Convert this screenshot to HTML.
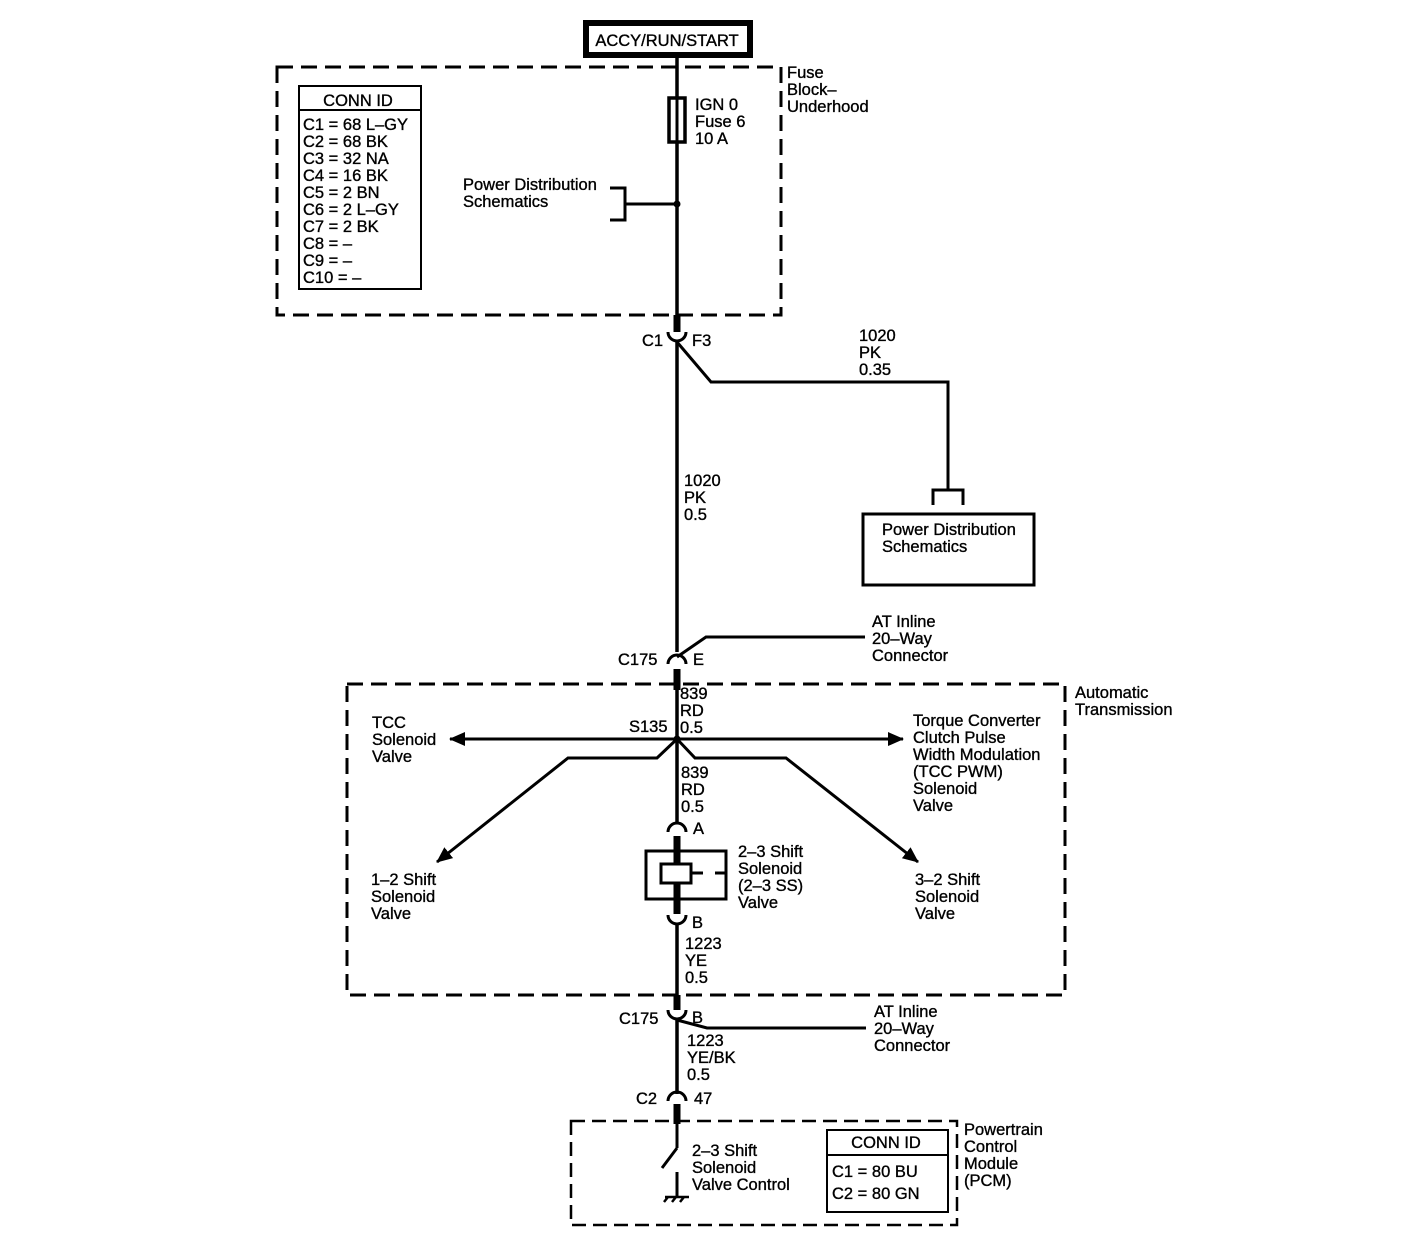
<!DOCTYPE html>
<html><head><style>
body{margin:0;background:#fff}
svg{display:block}
text{font-family:"Liberation Sans",sans-serif;font-size:16.5px;fill:#000;stroke:#000;stroke-width:0.35}
</style></head><body>
<svg width="1408" height="1240" viewBox="0 0 1408 1240" xmlns="http://www.w3.org/2000/svg">
<defs>
<marker id="ah2" markerWidth="16" markerHeight="14" refX="15" refY="7" orient="auto" markerUnits="userSpaceOnUse"><path d="M0,0 L16,7 L0,14 Z"/></marker></defs>
<g fill="none" stroke="#000">
<!-- top box -->
<rect x="586" y="23" width="164" height="32" stroke-width="6"/>
<!-- dashed boxes -->
<rect x="277" y="67" width="504" height="248" stroke-width="3" stroke-dasharray="16,8"/>
<rect x="347" y="684" width="718" height="311" stroke-width="3" stroke-dasharray="16,8"/>
<rect x="571" y="1121" width="386" height="104" stroke-width="2.5" stroke-dasharray="14,7"/>
<!-- conn id -->
<rect x="299" y="86" width="122" height="203" stroke-width="2"/>
<line x1="299" y1="110" x2="421" y2="110" stroke-width="2"/>
<rect x="827" y="1130" width="121" height="82" stroke-width="2"/>
<line x1="827" y1="1155" x2="948" y2="1155" stroke-width="2"/>
<!-- main wire -->
<line x1="677" y1="56" x2="677" y2="97" stroke-width="3.5"/>
<rect x="669" y="98" width="16" height="44" stroke-width="3.5"/>
<line x1="677" y1="97" x2="677" y2="142" stroke-width="3"/>
<line x1="677" y1="142" x2="677" y2="315" stroke-width="3.5"/>
<line x1="677" y1="315" x2="677" y2="332" stroke-width="7"/>
<path d="M668,332 A9,9 0 0 0 686,332" stroke-width="3"/>
<line x1="677" y1="342" x2="677" y2="652" stroke-width="3.5"/>
<!-- PD bracket top -->
<path d="M610,188 H625 V220 H610" stroke-width="3"/>
<line x1="625" y1="204" x2="677" y2="204" stroke-width="3"/>
<circle cx="677" cy="204" r="3" fill="#000"/>
<!-- branch -->
<path d="M677,342 L711,382 H948 V490" stroke-width="3"/>
<path d="M933,505 V490 H963 V505" stroke-width="3"/>
<rect x="863" y="514" width="171" height="71" stroke-width="3"/>
<!-- C175 E -->
<path d="M668,664 A9,9 0 0 1 686,664" stroke-width="3"/>
<path d="M677,657 L706,637 H865" stroke-width="3"/>
<line x1="677" y1="669" x2="677" y2="690" stroke-width="7"/>
<line x1="677" y1="690" x2="677" y2="822" stroke-width="3.5"/>
<!-- S135 -->
<line x1="677" y1="739" x2="450" y2="739" stroke-width="3" marker-end="url(#ah2)"/>
<line x1="677" y1="739" x2="903" y2="739" stroke-width="3" marker-end="url(#ah2)"/>
<circle cx="677" cy="739" r="3" fill="#000"/>
<path d="M677,739 L657,758 H568 L437,862" stroke-width="3" marker-end="url(#ah2)"/>
<path d="M677,739 L695,758 H786 L918,862" stroke-width="3" marker-end="url(#ah2)"/>
<!-- A -->
<path d="M668,832 A9,9 0 0 1 686,832" stroke-width="3"/>
<line x1="677" y1="836" x2="677" y2="914" stroke-width="7"/>
<rect x="646" y="851" width="80" height="48" stroke-width="3"/>
<rect x="661" y="864" width="30" height="19" stroke-width="3" fill="#fff"/>
<line x1="691" y1="873" x2="703" y2="873" stroke-width="3"/>
<line x1="715" y1="873" x2="726" y2="873" stroke-width="3"/>
<path d="M668,915 A9,9 0 0 0 686,915" stroke-width="3"/>
<line x1="677" y1="924" x2="677" y2="995" stroke-width="3.5"/>
<line x1="677" y1="995" x2="677" y2="1010" stroke-width="7"/>
<path d="M668,1010 A9,9 0 0 0 686,1010" stroke-width="3"/>
<path d="M677,1020 L707,1028 H866" stroke-width="3"/>
<line x1="677" y1="1020" x2="677" y2="1094" stroke-width="3.5"/>
<path d="M668,1101 A9,9 0 0 1 686,1101" stroke-width="3"/>
<line x1="677" y1="1104" x2="677" y2="1124" stroke-width="7"/>
<line x1="677" y1="1124" x2="677" y2="1148" stroke-width="3"/>
<line x1="677" y1="1148" x2="662" y2="1168" stroke-width="3"/>
<line x1="677" y1="1172" x2="677" y2="1196" stroke-width="3"/>
<path d="M665,1197 H689 M668,1197 L664,1202 M676,1197 L672,1202 M684,1197 L680,1202" stroke-width="2.5"/>
</g>
<text x="667" y="46" text-anchor="middle" font-size="17">ACCY/RUN/START</text>
<text x="787" y="78">Fuse</text><text x="787" y="95">Block–</text><text x="787" y="112">Underhood</text>
<text x="358" y="106" text-anchor="middle" font-size="17">CONN ID</text>
<text x="303" y="130">C1 = 68 L–GY</text><text x="303" y="147">C2 = 68 BK</text><text x="303" y="164">C3 = 32 NA</text><text x="303" y="181">C4 = 16 BK</text><text x="303" y="198">C5 = 2 BN</text><text x="303" y="215">C6 = 2 L–GY</text><text x="303" y="232">C7 = 2 BK</text><text x="303" y="249">C8 = –</text><text x="303" y="266">C9 = –</text><text x="303" y="283">C10 = –</text>
<text x="695" y="110">IGN 0</text><text x="695" y="127">Fuse 6</text><text x="695" y="144">10 A</text>
<text x="463" y="190">Power Distribution</text><text x="463" y="207">Schematics</text>
<text x="642" y="346">C1</text><text x="692" y="346">F3</text>
<text x="859" y="341">1020</text><text x="859" y="358">PK</text><text x="859" y="375">0.35</text>
<text x="684" y="486">1020</text><text x="684" y="503">PK</text><text x="684" y="520">0.5</text>
<text x="882" y="535">Power Distribution</text><text x="882" y="552">Schematics</text>
<text x="872" y="627">AT Inline</text><text x="872" y="644">20–Way</text><text x="872" y="661">Connector</text>
<text x="618" y="665">C175</text><text x="693" y="665">E</text>
<text x="1075" y="698">Automatic</text><text x="1075" y="715">Transmission</text>
<text x="680" y="699">839</text><text x="680" y="716">RD</text><text x="680" y="733">0.5</text>
<text x="629" y="732">S135</text>
<text x="372" y="728">TCC</text><text x="372" y="745">Solenoid</text><text x="372" y="762">Valve</text>
<text x="913" y="726">Torque Converter</text><text x="913" y="743">Clutch Pulse</text><text x="913" y="760">Width Modulation</text><text x="913" y="777">(TCC PWM)</text><text x="913" y="794">Solenoid</text><text x="913" y="811">Valve</text>
<text x="681" y="778">839</text><text x="681" y="795">RD</text><text x="681" y="812">0.5</text>
<text x="693" y="834">A</text>
<text x="738" y="857">2–3 Shift</text><text x="738" y="874">Solenoid</text><text x="738" y="891">(2–3 SS)</text><text x="738" y="908">Valve</text>
<text x="371" y="885">1–2 Shift</text><text x="371" y="902">Solenoid</text><text x="371" y="919">Valve</text>
<text x="915" y="885">3–2 Shift</text><text x="915" y="902">Solenoid</text><text x="915" y="919">Valve</text>
<text x="692" y="928">B</text>
<text x="685" y="949">1223</text><text x="685" y="966">YE</text><text x="685" y="983">0.5</text>
<text x="619" y="1024">C175</text><text x="692" y="1023">B</text>
<text x="874" y="1017">AT Inline</text><text x="874" y="1034">20–Way</text><text x="874" y="1051">Connector</text>
<text x="687" y="1046">1223</text><text x="687" y="1063">YE/BK</text><text x="687" y="1080">0.5</text>
<text x="636" y="1104">C2</text><text x="694" y="1104">47</text>
<text x="692" y="1156">2–3 Shift</text><text x="692" y="1173">Solenoid</text><text x="692" y="1190">Valve Control</text>
<text x="886" y="1148" text-anchor="middle" font-size="17">CONN ID</text>
<text x="832" y="1177">C1 = 80 BU</text><text x="832" y="1199">C2 = 80 GN</text>
<text x="964" y="1135">Powertrain</text><text x="964" y="1152">Control</text><text x="964" y="1169">Module</text><text x="964" y="1186">(PCM)</text>
</svg>
</body></html>
